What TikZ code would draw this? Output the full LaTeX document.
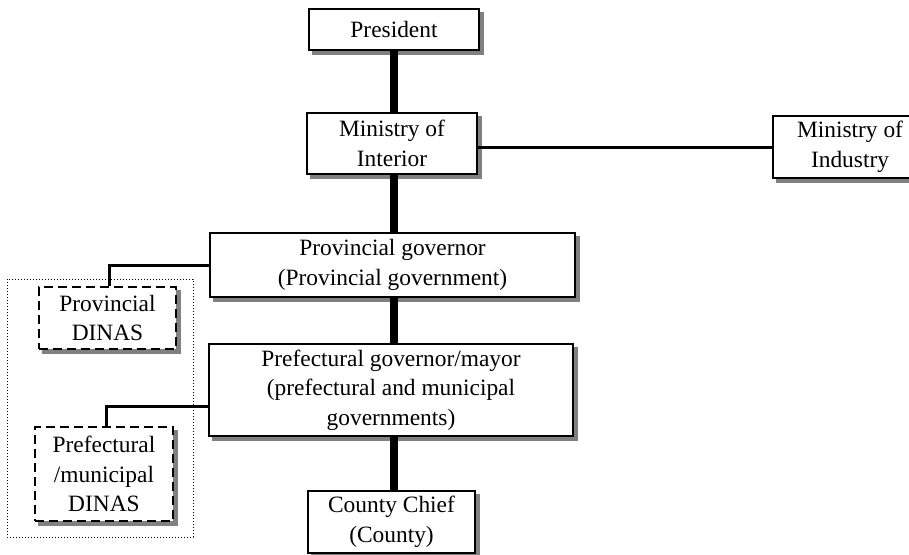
\documentclass[tikz,border=0pt]{standalone}
\usepackage{fontspec}
\setmainfont{Liberation Serif}
\usetikzlibrary{shadows,calc}
\begin{document}
\begin{tikzpicture}[x=1pt,y=-1pt,
  box/.style={draw, fill=white, line width=2.2pt, inner sep=0pt, align=center,
    font=\fontsize{23.4}{29.5}\selectfont,
    drop shadow={shadow xshift=4pt, shadow yshift=-4pt, fill=black!50,
      draw=black!50, solid, opacity=1}},
  dbox/.style={box, dash pattern=on 9pt off 5pt},
  trunk/.style={line width=8.5pt},
  branch/.style={line width=3pt},
  group/.style={dash pattern=on 1pt off 2pt, line width=1pt}]
\useasboundingbox (0,0) rectangle (909,554);

% grouping frame around the DINAS offices
\draw[group] (7,279) rectangle (193,537);

% hierarchy
\node[box, minimum width=170, minimum height=41] (pres) at (394,29.5) {President};
\node[box, minimum width=170, minimum height=61] (int) at (392,143.5) {Ministry of\\Interior};
\node[box, minimum width=154, minimum height=62] (ind) at (850,147) {Ministry of\\Industry};
\node[box, minimum width=365, minimum height=64] (provg) at (392.5,265) {Provincial governor\\(Provincial government)};
\node[box, minimum width=364, minimum height=92] (prefg) at (391,390) {Prefectural governor/mayor\\(prefectural and municipal\\governments)};
\node[box, minimum width=167, minimum height=62] (county) at (391.5,522) {County Chief\\(County)};

% DINAS offices
\node[dbox, minimum width=137, minimum height=62] (pdinas) at (107.5,318) {Provincial\\DINAS};
\node[dbox, minimum width=138, minimum height=94] (mdinas) at (104,474) {Prefectural\\/municipal\\DINAS};

% main line of authority
\draw[trunk] (pres.south) -- (pres.south |- int.north);
\draw[trunk] (pres.south |- int.south) -- (pres.south |- provg.north);
\draw[trunk] (pres.south |- provg.south) -- (pres.south |- prefg.north);
\draw[trunk] (pres.south |- prefg.south) -- (pres.south |- county.north);

% side links
\draw[branch] (ind.west) -- (ind.west -| int.east);
\draw[branch] (provg.west) -| ($(pdinas.north)+(1.5,0)$);
\coordinate (mj) at ($(prefg.west)+(0,16)$);
\draw[branch] (mj) -| ($(mdinas.north)+(2,0)$);
\end{tikzpicture}
\end{document}
